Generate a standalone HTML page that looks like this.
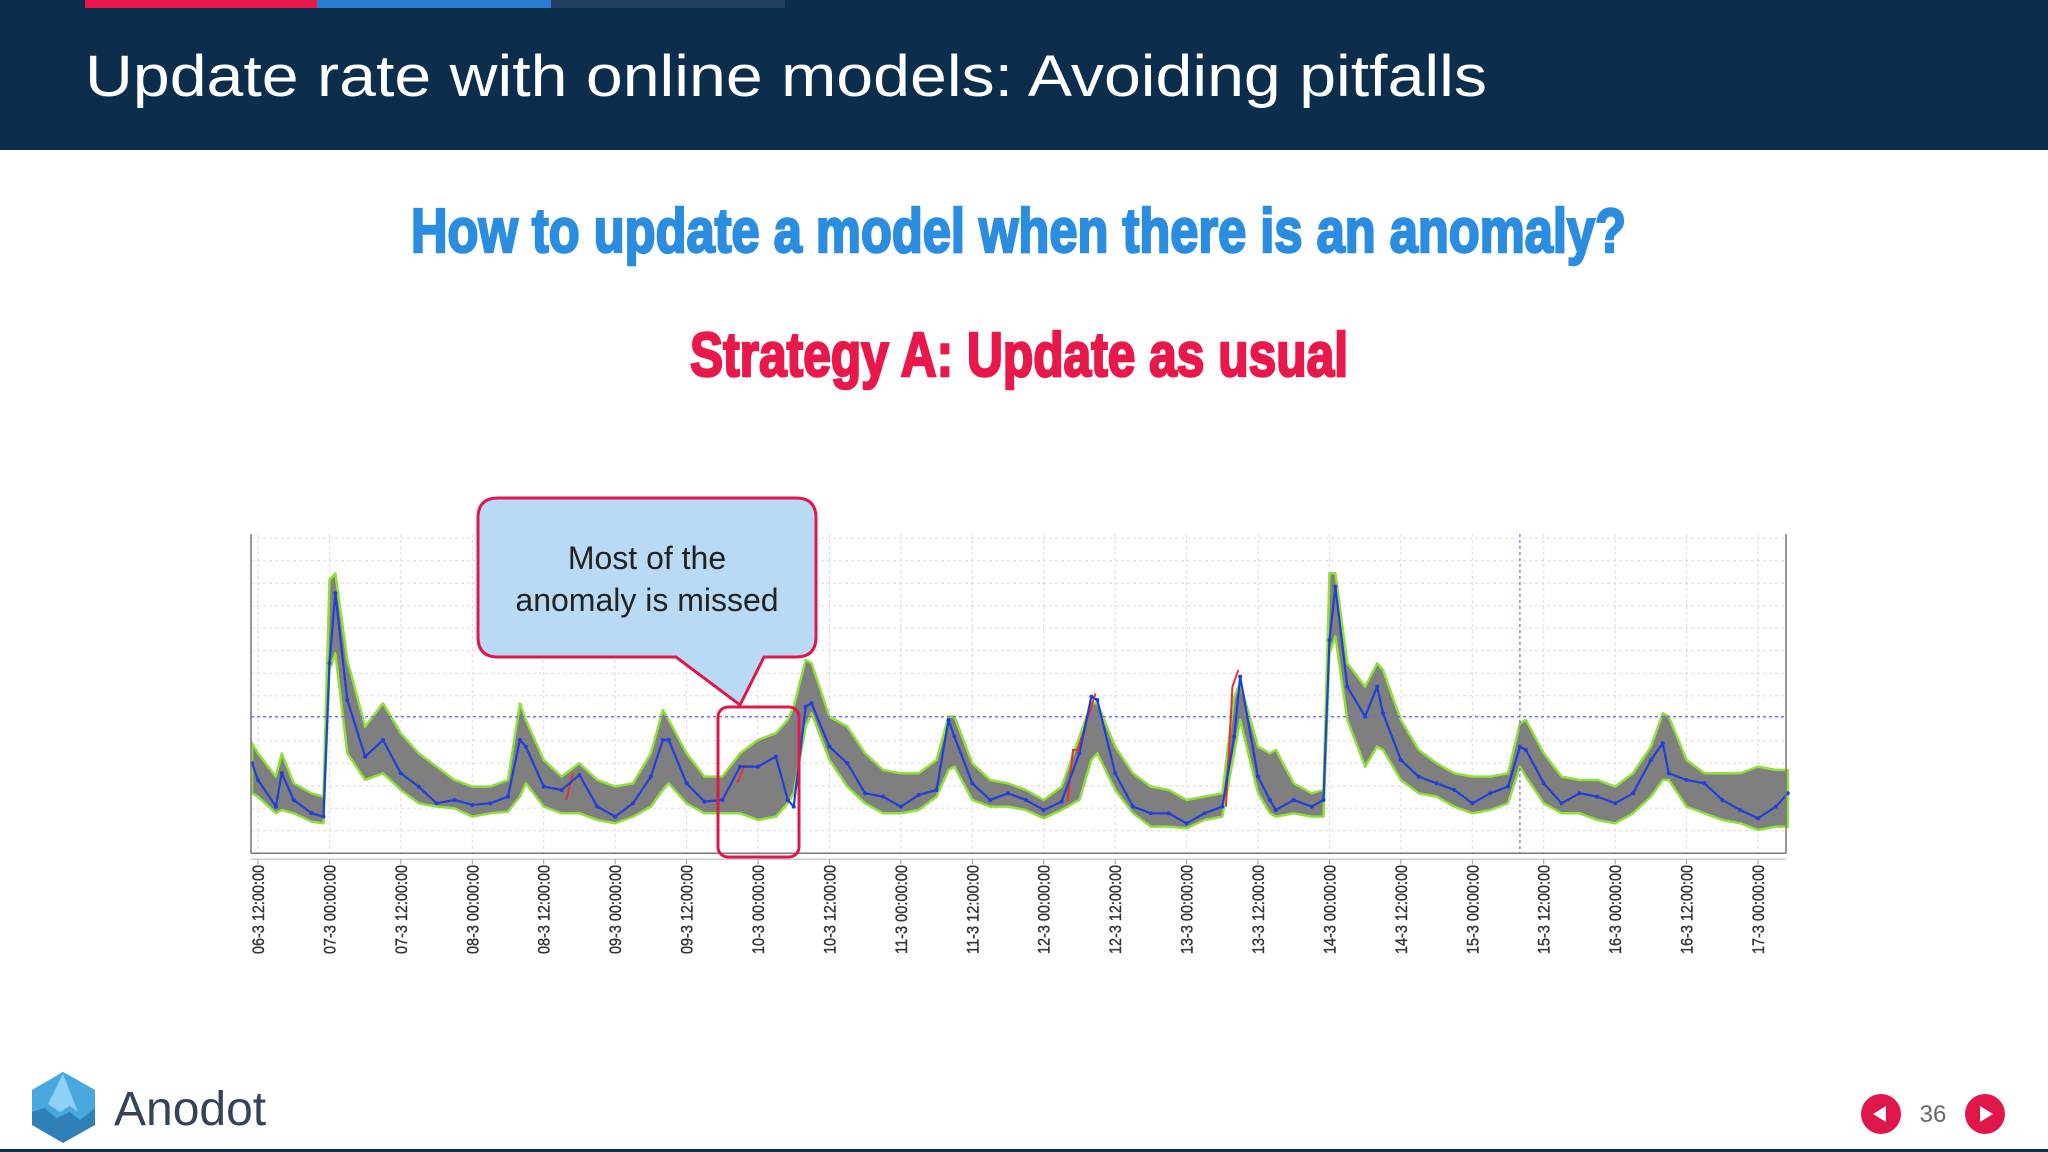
<!DOCTYPE html>
<html><head><meta charset="utf-8">
<style>
html,body{margin:0;padding:0;background:#fff;}
body{width:2048px;height:1152px;overflow:hidden;position:relative;font-family:"Liberation Sans",sans-serif;}
svg{position:absolute;left:0;top:0;}
</style></head>
<body>
<svg id="slide" width="2048" height="1152" viewBox="0 0 2048 1152" xmlns="http://www.w3.org/2000/svg">
  <rect x="0" y="0" width="2048" height="150" fill="#0d2d4c"/>
  <rect x="85" y="0" width="232" height="8" fill="#e8194a"/>
  <rect x="317" y="0" width="234" height="8" fill="#2a7fd4"/>
  <rect x="551" y="0" width="234" height="8" fill="#24405e"/>
  <text x="85" y="96" font-size="58" fill="#ffffff" textLength="1402" lengthAdjust="spacingAndGlyphs" font-family="Liberation Sans, sans-serif">Update rate with online models: Avoiding pitfalls</text>
  <text x="411" y="252" font-size="62" font-weight="bold" fill="#2a8de0" stroke="#2a8de0" stroke-width="2.5" textLength="1215" lengthAdjust="spacingAndGlyphs" font-family="Liberation Sans Narrow, Liberation Sans, sans-serif">How to update a model when there is an anomaly?</text>
  <text x="690" y="376" font-size="62" font-weight="bold" fill="#e8194a" stroke="#e8194a" stroke-width="2.5" textLength="658" lengthAdjust="spacingAndGlyphs" font-family="Liberation Sans Narrow, Liberation Sans, sans-serif">Strategy A: Update as usual</text>
  <g id="chart"></g>
  <g>
    <path d="M498,498 H796 Q816,498 816,518 V637 Q816,657 796,657 H764 L740,705 L676,657 H498 Q478,657 478,637 V518 Q478,498 498,498 Z" fill="#b9daf5" stroke="#e0174a" stroke-width="3"/>
    <text x="647" y="569" font-size="32" fill="#222" text-anchor="middle">Most of the</text>
    <text x="647" y="611" font-size="32" fill="#222" text-anchor="middle">anomaly is missed</text>
  </g>
  <rect x="718" y="707" width="81" height="150" rx="10" fill="none" stroke="#e0174a" stroke-width="3"/>
  <g>
    <polygon points="63,1072 95,1090 95,1125 63,1143 32,1125 32,1090" fill="#2f7fb8"/>
    <polygon points="63,1072 95,1090 95,1108 80,1120 70,1112 56,1118 45,1108 32,1112 32,1090" fill="#4aa8e0"/>
    <polygon points="63,1074 78,1112 70,1106 60,1112 48,1104" fill="#8fd0f5"/>
    <text x="114" y="1125" font-size="48" fill="#34435a">Anodot</text>
  </g>
  <rect x="0" y="1149" width="2048" height="3" fill="#0d2d4c"/>
  <g>
    <circle cx="1881" cy="1114" r="20" fill="#e0174a"/>
    <polygon points="1873,1114 1886,1106 1886,1122" fill="#fff"/>
  </g>
  <text x="1933" y="1122" font-size="24" fill="#666" text-anchor="middle">36</text>
  <g>
    <circle cx="1985" cy="1114" r="20" fill="#e0174a"/>
    <polygon points="1993,1114 1980,1106 1980,1122" fill="#fff"/>
  </g>
</svg>
<script>
// hours since 06-3 00:00
const times = [11,12,15,16,18,21,23,24,25,27,30,33,36,39,42,45,48,51,54,56,57,60,63,66,69,72,75,78,80,81,84,87,90,93,96,99,101,102,104,105,108,111,114,117,120,123,126,128,129,132,135,138,141,144,147,150,152,153,156,159,162,165,168,171,174,176,177,180,182,183,186,189,191,192,193,195,198,200,201,204,207,210,213,216,219,222,224,225,228,231,234,237,240,243,246,248,249,252,255,258,261,264,267,269];
const actual = [27,22,14,24,16,12,11,57,78,46,29,34,24,20,15,16,14.5,15,17,34,32,20,19,23.5,14,11,15,23,34,34,21,15.5,16,26,26,29,16,14,44,45,32,27,18,17,14,17.5,19,40,35,21,16,18,16,13,15.5,30,47,46,24,14,12,12,9,12,14,35,53,23,16,13,16,14,16,64,80,50,41,50,42,28,23,21,19,15,18,20,32,31,21,15,18,17,15,18,28,33,24,22,21,16,13,10.5,14,18];
const upper = [33,30,23,30,21,18,17,82,84,58,38,45,36,30,26,22,20,20,22,45,40,28,23,27,22,20,21,30,43,40,30,23,23,30,34,36,40,44,58,57,41,38,30,25,24,24,28,41,41,27,22,21,19,16,20,35,45,45,32,24,20,19,16,17,18,47,51,32,30,31,21,18,19,84,84,57,50,57,55,40,31,27,24,23,23,24,39,40,30,23,22,22,20,24,32,42,41,28,24,24,24,26,25,25];
const lower = [18,17,12,13,12,9.5,9,55,60,30,22,24,19,15,14,13.5,11,12,12.5,17,21,14,12,12,10,9,11,14,19,21,15,12,12,12,10,11,15,18,38,42,28,20,15,12,12,13,17,25,26,16,14,14,13,10.5,13,16,28,30,19,12,8,8,7.5,10,11,30,40,18,12,11,12,11,11,60,65,40,26,32,31,22,18,17,14,12,13,15,26,23,15,12,12,10,9,12,17,22,22,14,12,10,9,7,8,8];
const anomalyTimes = [[63.8,64.9],[92.5,93.8],[148,148.9,149.7,152.7],[174.6,175.7,176.7]];
const anomalyValues = [[16,24],[21,26.5],[15.5,31,31,48],[14,50,55]];
const tickHours = [12,24,36,48,60,72,84,96,108,120,132,144,156,168,180,192,204,216,228,240,252,264];
const tickLabels = ["06-3 12:00:00","07-3 00:00:00","07-3 12:00:00","08-3 00:00:00","08-3 12:00:00","09-3 00:00:00","09-3 12:00:00","10-3 00:00:00","10-3 12:00:00","11-3 00:00:00","11-3 12:00:00","12-3 00:00:00","12-3 12:00:00","13-3 00:00:00","13-3 12:00:00","14-3 00:00:00","14-3 12:00:00","15-3 00:00:00","15-3 12:00:00","16-3 00:00:00","16-3 12:00:00","17-3 00:00:00"];
const gridValues = [6.75,13.5,20.25,27,33.75,40.5,47.25,54,60.75,67.5,74.25,81,87.75,94.5];
const refValue = 41;
const refTime = 224;

const X0=251, X1=1786, Y0=853.3, YT=534;
const xS = t => 258 + (t-12)*71.43/12;
const yS = v => Y0 - v*10/3;
const NS="http://www.w3.org/2000/svg";
const chart=document.getElementById('chart');
function mk(tag, attrs, parent){const e=document.createElementNS(NS,tag);for(const k in attrs)e.setAttribute(k,attrs[k]);(parent||chart).appendChild(e);return e;}

const bg=mk('rect',{x:X0,y:YT,width:X1-X0,height:Y0-YT,fill:'#fff'});


gridValues.forEach(v=>{
  const g=mk('line',{x1:X0,x2:X1,y1:yS(v),y2:yS(v),stroke:'#d8d8e0','stroke-width':1,'stroke-dasharray':'3,3'});
  
  
});
tickHours.forEach(t=>{
  const g=mk('line',{x1:xS(t),x2:xS(t),y1:YT,y2:Y0,stroke:'#d8d8e0','stroke-width':1,'stroke-dasharray':'3,3'});
  
  
});
let d='M'+times.map((t,i)=>xS(t)+','+yS(upper[i])).join(' L');
for(let i=times.length-1;i>=0;i--) d+=' L'+xS(times[i])+','+yS(lower[i]);
d+=' Z';
const band=mk('path',{d:d,fill:'#7f7f7f',stroke:'#8fe03a','stroke-width':2.5,'stroke-linejoin':'round'});


const rh=mk('line',{x1:X0,x2:X1,y1:yS(refValue),y2:yS(refValue),stroke:'#6a6af0','stroke-width':1.2,'stroke-dasharray':'3,3'});


const rv=mk('line',{x1:xS(refTime),x2:xS(refTime),y1:YT,y2:Y0,stroke:'#6a6af0','stroke-width':1.2,'stroke-dasharray':'3,3'});


anomalyTimes.forEach((ts,j)=>{
  const a=mk('polyline',{points:ts.map((t,i)=>xS(t)+','+yS(anomalyValues[j][i])).join(' '),fill:'none',stroke:'#e83030','stroke-width':2});
  
  
});
const ln=mk('polyline',{points:times.map((t,i)=>xS(t)+','+yS(actual[i])).join(' '),fill:'none',stroke:'#1f3fd6','stroke-width':2.2,'stroke-linejoin':'round'});


times.forEach((t,i)=>{
  const p=mk('circle',{cx:xS(t),cy:yS(actual[i]),r:2,fill:'#1f3fd6'});
  
  
});
const ay=mk('line',{x1:X0,x2:X0,y1:YT,y2:Y0,stroke:'#777','stroke-width':1.5});


const ar=mk('line',{x1:X1,x2:X1,y1:YT,y2:Y0,stroke:'#777','stroke-width':1.5});


const ax=mk('line',{x1:X0,x2:X1,y1:Y0,y2:Y0,stroke:'#777','stroke-width':1.5});


const ax2=mk('line',{x1:X0,x2:X1,y1:Y0+6,y2:Y0+6,stroke:'#ccc','stroke-width':1.5});


tickHours.forEach((t,i)=>{
  const tk=mk('line',{x1:xS(t),x2:xS(t),y1:Y0+6,y2:Y0+11,stroke:'#999','stroke-width':1});
  
  
  const x=xS(t)+6, y=865;
  const tx=mk('text',{x:x,y:y,'font-size':17,fill:'#333',stroke:'#333','stroke-width':0.4,'text-anchor':'end',transform:'rotate(-90 '+x+' '+y+')',textLength:89,lengthAdjust:'spacingAndGlyphs','font-family':'Liberation Sans, sans-serif'});
  tx.textContent=tickLabels[i];
  
  
});
</script>
</body></html>
